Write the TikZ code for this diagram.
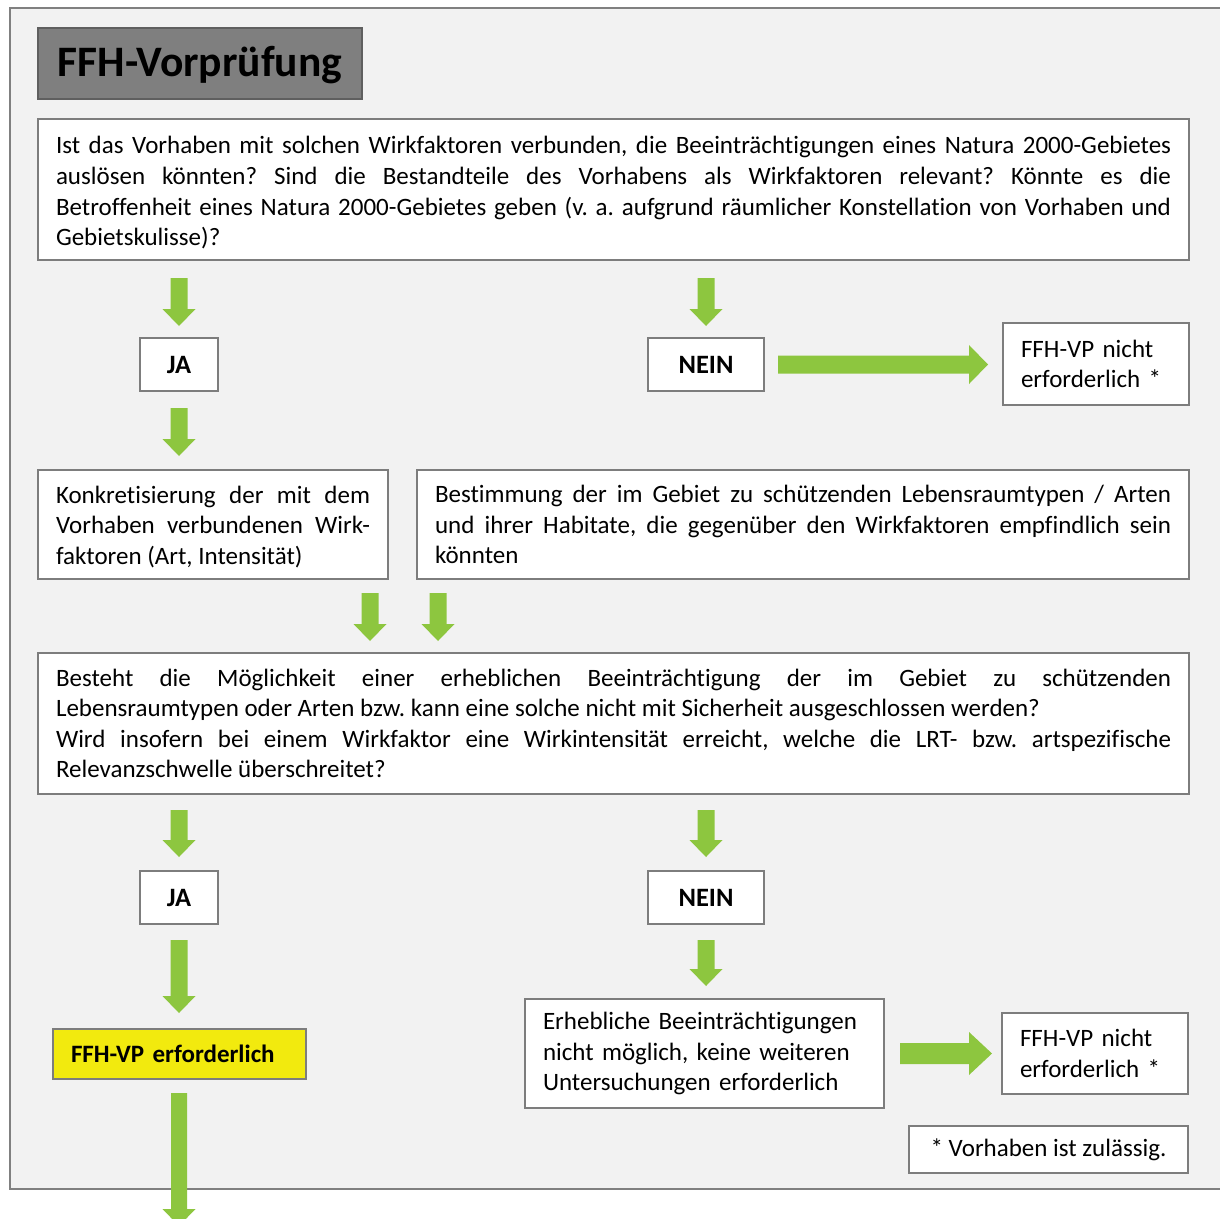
\documentclass[tikz,border=0pt]{standalone}
\usepackage{fontspec}
\setmainfont{Carlito}[Ligatures=NoCommon]
\usetikzlibrary{calc}
\definecolor{bg}{RGB}{242,242,242}
\definecolor{frm}{RGB}{128,128,128}
\definecolor{bord}{RGB}{125,125,125}
\definecolor{gr}{RGB}{141,198,63}
\definecolor{yel}{RGB}{242,234,14}
\definecolor{tfill}{RGB}{127,127,127}
\definecolor{tbord}{RGB}{95,95,95}
\hyphenpenalty=10000
\exhyphenpenalty=10000
\tolerance=10000
\frenchspacing
\setlength{\parindent}{0pt}
\newcommand\bodyfont{\fontsize{25}{30.6}\selectfont}
\newcommand\jafont{\fontsize{26.5}{30}\selectfont\bfseries}
\newcommand\titlefont{\fontsize{43.5}{50}\selectfont\bfseries}
\begin{document}
\begin{tikzpicture}[x=1pt,y=-1pt,
  box/.style={draw=bord, line width=2pt, fill=white, anchor=north west,
    inner xsep=18pt, inner ysep=0pt, outer sep=0pt, font=\bodyfont},
  centerbox/.style={box, inner xsep=0pt},
  gdown/.style n args={3}{fill=gr, draw=none, to path={
    ($(\tikztostart)+(-#1,0)$) -- ($(\tikztotarget)+(-#1,-#3)$) -- ($(\tikztotarget)+(-#2,-#3)$)
    -- (\tikztotarget) -- ($(\tikztotarget)+(#2,-#3)$) -- ($(\tikztotarget)+(#1,-#3)$)
    -- ($(\tikztostart)+(#1,0)$) -- cycle}},
  gright/.style n args={3}{fill=gr, draw=none, to path={
    ($(\tikztostart)+(0,-#1)$) -- ($(\tikztotarget)+(-#3,-#1)$) -- ($(\tikztotarget)+(-#3,-#2)$)
    -- (\tikztotarget) -- ($(\tikztotarget)+(-#3,#2)$) -- ($(\tikztotarget)+(-#3,#1)$)
    -- ($(\tikztostart)+(0,#1)$) -- cycle}}
]
\useasboundingbox (0,0) rectangle (1220,1218);
\clip (0,0) rectangle (1220,1218);
\fill[white] (0,0) rectangle (1220,1218);
\draw[draw=frm, fill=bg, line width=2pt] (10,8) rectangle (1240,1189);

\node[centerbox, fill=tfill, draw=tbord, minimum width=324pt, minimum height=71pt, text height=30pt, text depth=5pt, font=\titlefont] (title) at (38,28) {FFH-Vorprüfung};

\node[box, minimum width=1151pt, minimum height=141pt, text width=1115pt, align=justify] (q1) at (38,119)
{\rule{0pt}{24pt}Ist das Vorhaben mit solchen Wirkfaktoren verbunden, die Beeinträchtigungen eines Natura 2000-Gebietes\linebreak
auslösen könnten? Sind die Bestandteile des Vorhabens als Wirkfaktoren relevant? Könnte es die\linebreak
Betroffenheit eines Natura 2000-Gebietes geben (v. a. aufgrund räumlicher Konstellation von Vorhaben und\linebreak
Gebietskulisse)?};

\node[centerbox, minimum width=78pt, minimum height=53pt, font=\jafont] (ja1) at (140,338) {JA};
\node[centerbox, minimum width=116pt, minimum height=53pt, font=\jafont] (nein1) at (648,338) {NEIN};
\node[box, minimum width=186pt, minimum height=82pt, text width=150pt, align=left] (nr1) at (1003,323)
{FFH-VP nicht\\erforderlich *};

\node[box, minimum width=350pt, minimum height=109pt, text width=314pt, align=justify] (konk) at (38,470)
{\rule{0pt}{22pt}Konkretisierung der mit dem\linebreak Vorhaben verbundenen Wirk-\linebreak faktoren (Art, Intensität)};
\node[box, minimum width=772pt, minimum height=109pt, text width=736pt, align=justify] (best) at (417,470)
{Bestimmung der im Gebiet zu schützenden Lebensraumtypen / Arten\linebreak
und ihrer Habitate, die gegenüber den Wirkfaktoren empfindlich sein\linebreak könnten};

\node[box, minimum width=1151pt, minimum height=141pt, text width=1115pt, align=justify] (q2) at (38,653)
{Besteht die Möglichkeit einer erheblichen Beeinträchtigung der im Gebiet zu schützenden\linebreak
Lebensraumtypen oder Arten bzw. kann eine solche nicht mit Sicherheit ausgeschlossen werden?\newline
Wird insofern bei einem Wirkfaktor eine Wirkintensität erreicht, welche die LRT- bzw. artspezifische\linebreak
Relevanzschwelle überschreitet?};

\node[centerbox, minimum width=78pt, minimum height=53pt, font=\jafont] (ja2) at (140,871) {JA};
\node[centerbox, minimum width=116pt, minimum height=53pt, font=\jafont] (nein2) at (648,871) {NEIN};

\node[box, fill=yel, minimum width=253pt, minimum height=50pt, text width=217pt, align=left, font=\bodyfont\bfseries] (yes) at (53,1029)
{FFH-VP erforderlich};
\node[box, minimum width=359pt, minimum height=109pt, text width=323pt, align=left] (erh) at (525,999)
{Erhebliche Beeinträchtigungen\\nicht möglich, keine weiteren\\Untersuchungen erforderlich};
\node[box, minimum width=186pt, minimum height=81pt, text width=150pt, align=left] (nr2) at (1002,1013)
{FFH-VP nicht\\erforderlich *};
\node[centerbox, minimum width=279pt, minimum height=47pt] (foot) at (909,1126) {* Vorhaben ist zulässig.};

% arrows
\path[gdown={8.5}{16.5}{17}] ([yshift=-18pt]ja1.north |- q1.south) to ([yshift=12pt]ja1.north);
\path[gdown={8.5}{16.5}{17}] ([yshift=-18pt]nein1.north |- q1.south) to ([yshift=12pt]nein1.north);
\path[gright={9}{19.5}{19}] ([xshift=14pt]nein1.east) to ([xshift=-15pt]nein1.east -| nr1.west);
\path[gdown={8.5}{16.5}{17}] ([yshift=-17pt]ja1.south) to ([yshift=14pt]ja1.south |- konk.north);
\path[gdown={8.5}{16.5}{17}] ([xshift=-18pt,yshift=-14pt]konk.south east) to ([xshift=-18pt,yshift=12pt]konk.south east |- q2.north);
\path[gdown={8.5}{16.5}{17}] ([xshift=21pt,yshift=-14pt]best.south west) to ([xshift=21pt,yshift=12pt]best.south west |- q2.north);
\path[gdown={8.5}{16.5}{17}] ([yshift=-16pt]ja2.north |- q2.south) to ([yshift=14pt]ja2.north);
\path[gdown={8.5}{16.5}{17}] ([yshift=-16pt]nein2.north |- q2.south) to ([yshift=14pt]nein2.north);
\path[gdown={8.5}{16.5}{17}] ([yshift=-16pt]ja2.south) to ([yshift=16pt]ja2.south |- yes.north);
\path[gdown={8.5}{16.5}{17}] ([yshift=-16pt]nein2.south) to ([yshift=13pt]nein2.south |- erh.north);
\path[gright={10.5}{21.5}{23}] ([xshift=16pt]erh.east) to ([xshift=-10pt]erh.east -| nr2.west);
\coordinate (out) at (ja2.south |- 0,1226);
\path[gdown={8}{16.5}{17}] ([yshift=-14pt]ja2.south |- yes.south) to (out);
\end{tikzpicture}
\end{document}
